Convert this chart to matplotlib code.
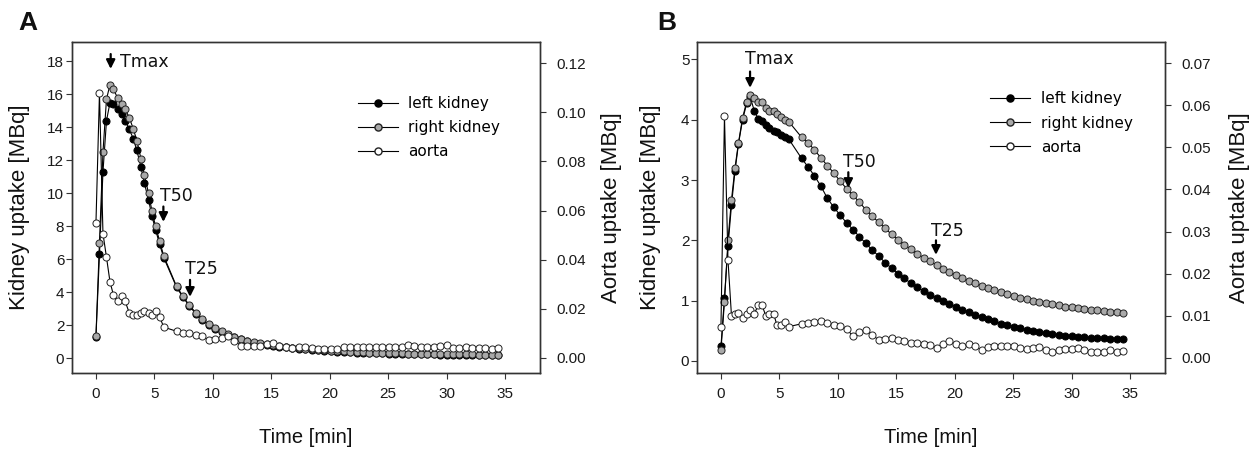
import matplotlib
matplotlib.use("Agg")
import matplotlib.pyplot as plt
from matplotlib.lines import Line2D
from matplotlib.ticker import FormatStrFormatter

# ---------------- data ----------------
time_min = [0.0, 0.3, 0.6, 0.9, 1.2, 1.5, 1.85, 2.2, 2.5, 2.85, 3.2, 3.5, 3.85, 4.15, 4.5, 4.8, 5.1, 5.45, 5.8,
            6.9, 7.45, 8.0, 8.55, 9.1, 9.65, 10.2, 10.75, 11.3, 11.85, 12.4, 12.95, 13.5, 14.05, 14.6, 15.15,
            15.7, 16.25, 16.8, 17.35, 17.9, 18.45, 19.0, 19.55, 20.1, 20.65, 21.2, 21.75, 22.3, 22.85, 23.4,
            23.95, 24.5, 25.05, 25.6, 26.15, 26.7, 27.25, 27.8, 28.35, 28.9, 29.45, 30.0, 30.55, 31.1, 31.65,
            32.2, 32.75, 33.3, 33.85, 34.4]

# Panel A
a_left_kidney = [1.3, 6.3, 11.3, 14.4, 15.5, 15.4, 15.1, 14.8, 14.4, 13.9, 13.3, 12.6, 11.6, 10.6, 9.6, 8.6, 7.8, 6.9, 6.1,
                 4.3, 3.7, 3.15, 2.7, 2.3, 2.0, 1.78, 1.58, 1.41, 1.27, 1.14, 1.03, 0.94, 0.87, 0.81, 0.75,
                 0.7, 0.65, 0.61, 0.57, 0.53, 0.5, 0.47, 0.44, 0.42, 0.4, 0.38, 0.36, 0.34, 0.32, 0.31,
                 0.3, 0.29, 0.28, 0.27, 0.26, 0.25, 0.25, 0.24, 0.23, 0.23, 0.22, 0.22, 0.21, 0.21, 0.2,
                 0.2, 0.19, 0.19, 0.18, 0.18]
a_right_kidney = [1.35, 7.0, 12.5, 15.7, 16.6, 16.3, 15.8, 15.4, 15.1, 14.6, 13.9, 13.2, 12.1, 11.1, 10.0, 8.9, 8.0, 7.1, 6.2,
                  4.35, 3.75, 3.2, 2.75, 2.35, 2.05, 1.82, 1.62, 1.45, 1.3, 1.17, 1.06, 0.97, 0.9, 0.84, 0.78,
                  0.73, 0.68, 0.64, 0.6, 0.56, 0.53, 0.5, 0.47, 0.45, 0.43, 0.41, 0.39, 0.37, 0.35, 0.34,
                  0.33, 0.32, 0.31, 0.3, 0.29, 0.28, 0.28, 0.27, 0.26, 0.26, 0.25, 0.25, 0.24, 0.24, 0.23,
                  0.23, 0.22, 0.22, 0.21, 0.21]
a_aorta = [0.055, 0.1078, 0.0506, 0.041, 0.031, 0.0255, 0.023, 0.0251, 0.023, 0.0183, 0.0176, 0.0176, 0.0183, 0.019,
           0.0183, 0.0176, 0.019, 0.0167, 0.0125,
           0.0108, 0.0101, 0.0099, 0.0091, 0.0088, 0.0072, 0.0077, 0.0080, 0.0088, 0.0068, 0.0050, 0.0047,
           0.0050, 0.0050, 0.0055, 0.0061, 0.0050, 0.0045, 0.0041, 0.0045, 0.0045, 0.0039, 0.0037, 0.0037,
           0.0034, 0.0037, 0.0045, 0.0045, 0.0045, 0.0043, 0.0045, 0.0045, 0.0043, 0.0045, 0.0043, 0.0045,
           0.0052, 0.0050, 0.0043, 0.0045, 0.0045, 0.0050, 0.0052, 0.0041, 0.0041, 0.0043, 0.0041, 0.0039,
           0.0039, 0.0037, 0.0039]

# Panel B
b_left_kidney = [0.24, 1.05, 1.9, 2.58, 3.15, 3.6, 4.0, 4.27, 4.38, 4.15, 4.01, 3.98, 3.91, 3.86, 3.82, 3.79, 3.75, 3.72, 3.68,
                 3.36, 3.22, 3.07, 2.9, 2.7, 2.55, 2.42, 2.29, 2.18, 2.06, 1.95, 1.84, 1.74, 1.63, 1.54, 1.45,
                 1.37, 1.29, 1.22, 1.16, 1.1, 1.05, 1.0, 0.95, 0.9, 0.85, 0.81, 0.77, 0.73, 0.69, 0.66,
                 0.62, 0.6, 0.57, 0.54, 0.52, 0.5, 0.48, 0.47, 0.45, 0.43, 0.42, 0.41, 0.4, 0.39, 0.385,
                 0.38, 0.375, 0.37, 0.365, 0.36]
b_right_kidney = [0.18, 0.98, 2.0, 2.67, 3.2, 3.62, 4.03, 4.3, 4.41, 4.36, 4.29, 4.29, 4.2, 4.15, 4.14, 4.1, 4.05, 4.0, 3.97,
                  3.71, 3.62, 3.5, 3.37, 3.24, 3.12, 2.98, 2.86, 2.75, 2.63, 2.51, 2.4, 2.3, 2.2, 2.1, 2.01,
                  1.93, 1.85, 1.78, 1.71, 1.65, 1.59, 1.53, 1.48, 1.42, 1.37, 1.33, 1.29, 1.25, 1.21, 1.17,
                  1.14, 1.11, 1.08, 1.05, 1.02, 1.0, 0.98, 0.96, 0.94, 0.92, 0.9, 0.89, 0.87, 0.86, 0.85,
                  0.84, 0.83, 0.82, 0.81, 0.8]
b_aorta = [0.0074, 0.0575, 0.0233, 0.0100, 0.0103, 0.0107, 0.0095, 0.0103, 0.0113, 0.0105, 0.0125, 0.0126, 0.0099,
           0.0103, 0.0105, 0.0077, 0.0077, 0.0085, 0.0074,
           0.0081, 0.0083, 0.0084, 0.0087, 0.0083, 0.0078, 0.0075, 0.0068, 0.0052, 0.0062, 0.0066, 0.0055,
           0.0042, 0.0044, 0.0048, 0.0042, 0.0040, 0.0036, 0.0036, 0.0034, 0.0030, 0.0024, 0.0034, 0.0040,
           0.0032, 0.0028, 0.0032, 0.0027, 0.0019, 0.0025, 0.0027, 0.0029, 0.0029, 0.0027, 0.0024, 0.0020,
           0.0024, 0.0026, 0.0018, 0.0015, 0.0018, 0.0020, 0.0022, 0.0024, 0.0019, 0.0015, 0.0013, 0.0015,
           0.0018, 0.0015, 0.0016]

series_labels = ["left kidney", "right kidney", "aorta"]
x_ticks = [0, 5, 10, 15, 20, 25, 30, 35]
a_kidney_ticks = [0, 2, 4, 6, 8, 10, 12, 14, 16, 18]
a_aorta_ticks = [0.00, 0.02, 0.04, 0.06, 0.08, 0.10, 0.12]
b_kidney_ticks = [0, 1, 2, 3, 4, 5]
b_aorta_ticks = [0.00, 0.01, 0.02, 0.03, 0.04, 0.05, 0.06, 0.07]

# annotations: (label, x, arrow tip y, arrow tail y, text x, text y)
a_marks = [("Tmax", 1.26, 17.55, 18.45, 2.05, 17.95),
           ("T50", 5.77, 8.27, 9.2, 5.45, 9.85),
           ("T25", 8.05, 3.72, 4.75, 7.6, 5.4)]
b_marks = [("Tmax", 2.49, 4.53, 4.80, 2.05, 5.0),
           ("T50", 10.9, 2.87, 3.13, 10.45, 3.3),
           ("T25", 18.4, 1.76, 2.00, 17.95, 2.16)]

# ---------------- style ----------------
ARIAL = "Liberation Sans"
LEG = "DejaVu Sans"
GRAY = "#a9a9a9"
SPINE = "#333333"
MS = 5.1
W, H = 1256, 450

fig = plt.figure(figsize=(W / 100, H / 100), dpi=100)
fig.patch.set_facecolor("white")

def px_axes(left, right, top, bottom):
    return fig.add_axes([left / W, 1 - bottom / H, (right - left) / W, (bottom - top) / H])

def style_axis(ax):
    for s in ax.spines.values():
        s.set_color(SPINE)
        s.set_linewidth(1.0)

def make_panel(left, right, t, lk, rk, ao, kylim, aylim, kticks, aticks,
               marks, leg_anchor, letter, letter_x, ylab_x, rlab_x, kfmt):
    ax = px_axes(left, right, 41.7, 373)
    style_axis(ax)
    ax.plot(t, lk, "-o", color="black", lw=0.8, ms=MS, mfc="black", mec="black", mew=0.7, zorder=3)
    ax.plot(t, rk, "-o", color="black", lw=0.8, ms=MS, mfc=GRAY, mec="#222222", mew=0.7, zorder=4)
    ax.set_xlim(-2.05, 38.0)
    ax.set_ylim(*kylim)
    ax.set_xticks(x_ticks)
    ax.set_yticks(kticks)
    ax.yaxis.set_major_formatter(FormatStrFormatter(kfmt))
    ax.tick_params(axis="both", direction="out", length=4, width=0.8, color=SPINE,
                   labelsize=11, labelcolor="#1a1a1a")
    ax.tick_params(axis="y", pad=1.5)
    ax.tick_params(axis="x", pad=6)
    for lbl in ax.get_xticklabels() + ax.get_yticklabels():
        lbl.set_fontfamily(ARIAL)

    ax2 = ax.twinx()
    style_axis(ax2)
    ax2.plot(t, ao, "-o", color="black", lw=0.8, ms=MS, mfc="white", mec="#222222", mew=0.7, zorder=3)
    ax2.set_ylim(*aylim)
    ax2.set_yticks(aticks)
    ax2.yaxis.set_major_formatter(FormatStrFormatter("%.2f"))
    ax2.tick_params(axis="y", direction="out", length=4, width=0.8, color=SPINE,
                    labelsize=11, labelcolor="#1a1a1a", pad=8)
    for lbl in ax2.get_yticklabels():
        lbl.set_fontfamily(ARIAL)

    for lab, x, tip, tail, tx, ty in marks:
        ax.annotate("", xy=(x, tip), xytext=(x, tail),
                    arrowprops=dict(arrowstyle="-|>", color="black", lw=1.6,
                                    mutation_scale=13, shrinkA=0, shrinkB=0), zorder=6)
        ax.text(tx, ty, lab, ha="left", va="center", fontsize=12.5, family=LEG, color="#111111", zorder=6)

    handles = [
        Line2D([], [], color="black", lw=0.8, marker="o", ms=MS, mfc="black", mec="black"),
        Line2D([], [], color="black", lw=0.8, marker="o", ms=MS, mfc=GRAY, mec="#222222"),
        Line2D([], [], color="black", lw=0.8, marker="o", ms=MS, mfc="white", mec="#222222"),
    ]
    ax2.legend(handles, series_labels, loc="upper left", bbox_to_anchor=leg_anchor,
               frameon=False, prop={"family": LEG, "size": 11}, handlelength=2.6,
               handletextpad=0.7, labelspacing=0.6, borderaxespad=0, borderpad=0)

    ax.text(0.5, -0.195, "Time [min]", transform=ax.transAxes, ha="center", va="center",
            fontsize=14.5, family=ARIAL, color="#111111")
    ax.text(ylab_x, 0.5, "Kidney uptake [MBq]", transform=ax.transAxes, ha="center", va="center",
            rotation=90, fontsize=16, family=ARIAL, color="#111111")
    ax.text(rlab_x, 0.5, "Aorta uptake [MBq]", transform=ax.transAxes, ha="center", va="center",
            rotation=90, fontsize=16, family=ARIAL, color="#111111")
    fig.text(letter_x / W, 1 - 22.5 / H, letter, ha="center", va="center", fontsize=19,
             fontweight="bold", family=ARIAL, color="#111111")
    return ax, ax2

make_panel(72, 540, time_min, a_left_kidney, a_right_kidney, a_aorta,
           (-0.9, 19.2), (-0.0062, 0.1288), a_kidney_ticks, a_aorta_ticks,
           a_marks, (0.611, 0.836), "A", 28, -0.112, 1.152, "%d")
make_panel(697, 1165, time_min, b_left_kidney, b_right_kidney, b_aorta,
           (-0.2, 5.295), (-0.0036, 0.0751), b_kidney_ticks, b_aorta_ticks,
           b_marks, (0.627, 0.850), "B", 666.5, -0.099, 1.160, "%d")

fig.savefig("out.png", dpi=100, facecolor="white")
